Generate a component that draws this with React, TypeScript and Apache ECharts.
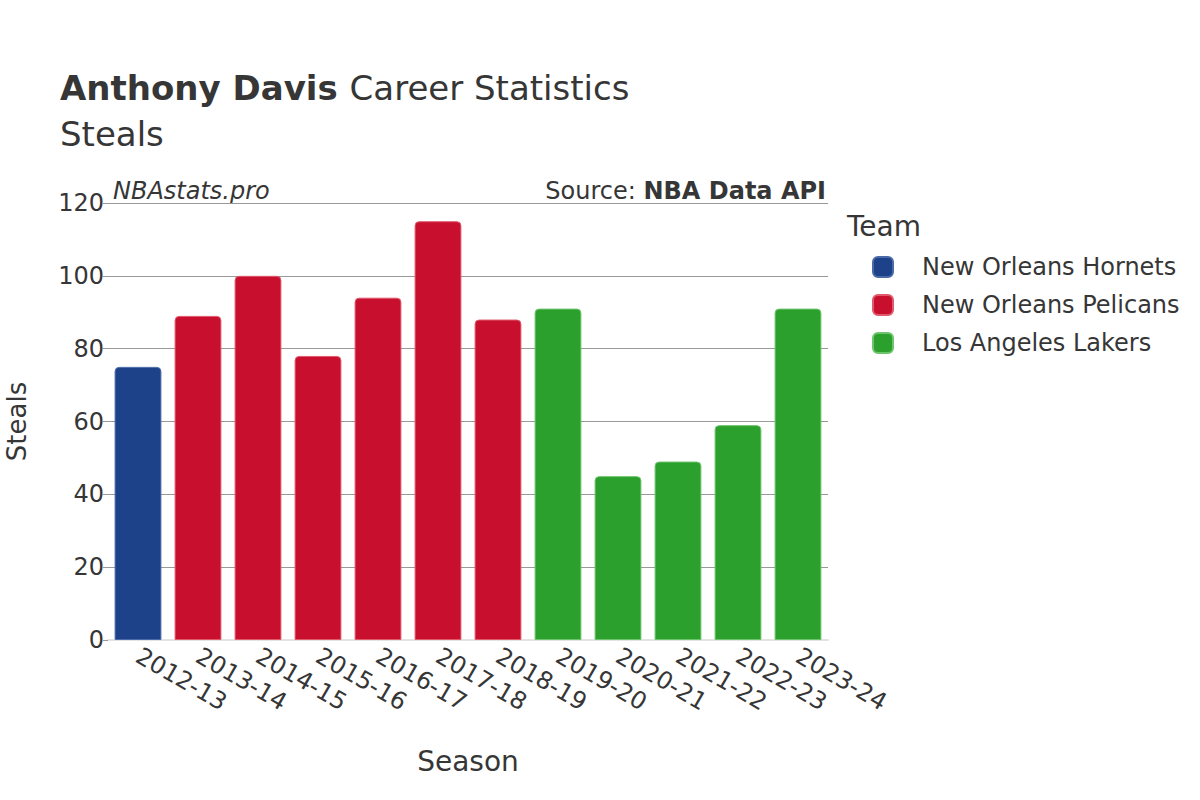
import React, { useEffect, useRef } from "react";
import * as echarts from "echarts";

const seasons = ["2012-13", "2013-14", "2014-15", "2015-16", "2016-17", "2017-18", "2018-19", "2019-20", "2020-21", "2021-22", "2022-23", "2023-24"];
const teams = ["New Orleans Hornets", "New Orleans Pelicans", "Los Angeles Lakers"];
const teamColors = ["#1d428a", "#c8102e", "#2ca02c"];
const teamBorders = ["#4a6aa8", "#e05a6c", "#6cc46c"];
const seasonTeam = [0, 1, 1, 1, 1, 1, 1, 2, 2, 2, 2, 2];
const steals = [75, 89, 100, 78, 94, 115, 88, 91, 45, 49, 59, 91];
const yTicks = { min: 0, max: 120, interval: 20 };

const FONT = "DejaVu Sans";
const TXT = "#363636";

export default function App() {
  const ref = useRef<HTMLDivElement>(null);
  useEffect(() => {
    const chart = echarts.init(ref.current!, null, { renderer: "svg" });
    const series = teams.map((t, ti) => ({
      name: t,
      type: "bar",
      stack: "all",
      barCategoryGap: "22%",
      data: steals.map((v, i) => (seasonTeam[i] === ti ? v : "-")),
      itemStyle: {
        color: teamColors[ti],
        borderColor: teamBorders[ti],
        borderWidth: 1,
        borderRadius: [4, 4, 0, 0],
      },
    }));
    chart.setOption({
      animation: false,
      textStyle: { fontFamily: FONT },
      title: {
        left: 60,
        top: 65,
        padding: 0,
        text: "{b|Anthony Davis }{n|Career Statistics}\n{n|Steals}",
        textStyle: {
          fontWeight: "normal",
          rich: {
            b: { fontFamily: FONT, fontWeight: "bold", fontSize: 34, color: TXT, lineHeight: 46 },
            n: { fontFamily: FONT, fontWeight: "normal", fontSize: 34, color: TXT, lineHeight: 46 },
          },
        },
      },
      legend: {
        orient: "vertical",
        left: 867,
        top: 250,
        icon: "roundRect",
        itemWidth: 20,
        itemHeight: 20,
        itemGap: 14,
        data: teams,
        textStyle: { fontFamily: FONT, fontSize: 24, color: TXT, padding: [0, 0, 0, 24] },
      },
      graphic: [
        { type: "text", left: 847, top: 212, style: { text: "Team", font: `28px '${FONT}'`, fill: TXT } },
        { type: "text", left: 113, top: 179, style: { text: "NBAstats.pro", font: `italic 24px '${FONT}'`, fill: TXT } },
        {
          type: "text",
          right: 374,
          top: 179,
          style: {
            rich: {
              a: { fontFamily: FONT, fontSize: 24, fill: TXT },
              b: { fontFamily: FONT, fontSize: 24, fontWeight: "bold", fill: TXT },
            },
            text: "{a|Source: }{b|NBA Data API}",
          },
        },
      ],
      grid: { left: 108, right: 372, top: 203, bottom: 160, containLabel: false, outerBoundsMode: "none" },
      xAxis: {
        type: "category",
        data: seasons,
        name: "Season",
        nameLocation: "middle",
        nameGap: 107,
        nameTextStyle: { fontFamily: FONT, fontSize: 28, color: TXT },
        axisLine: { lineStyle: { color: "#e3e3e3", width: 2 } },
        axisTick: { show: false },
        axisLabel: { rotate: -30, fontFamily: FONT, fontSize: 24, color: TXT, margin: 14, interval: 0 },
      },
      yAxis: {
        type: "value",
        min: yTicks.min,
        max: yTicks.max,
        interval: yTicks.interval,
        name: "Steals",
        nameLocation: "middle",
        nameGap: 78,
        nameTextStyle: { fontFamily: FONT, fontSize: 26, color: TXT },
        axisLine: { show: false },
        axisTick: { show: true, length: 5, lineStyle: { color: "#999" } },
        axisLabel: { fontFamily: FONT, fontSize: 24, color: TXT, margin: 4 },
        splitLine: { lineStyle: { color: "#999", width: 1 } },
      },
      series,
    });
    return () => chart.dispose();
  }, []);
  return <div ref={ref} style={{ width: 1200, height: 800, position: "absolute", left: 0, top: 0 }} />;
}
